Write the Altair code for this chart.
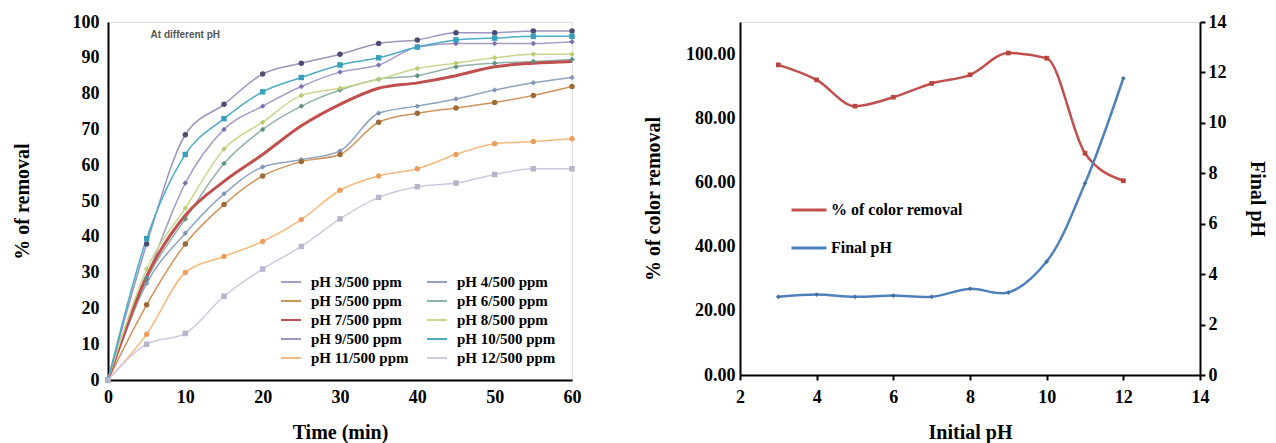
import altair as alt
import pandas as pd

# ---------------- Left panel data ----------------
times = [0, 5, 10, 15, 20, 25, 30, 35, 40, 45, 50, 55, 60]
series_names = [
    "pH 3/500 ppm", "pH 4/500 ppm", "pH 5/500 ppm", "pH 6/500 ppm",
    "pH 7/500 ppm", "pH 8/500 ppm", "pH 9/500 ppm", "pH 10/500 ppm",
    "pH 11/500 ppm", "pH 12/500 ppm",
]
ph3 = [0, 28.5, 55, 70, 76.5, 82, 86, 88, 93, 94, 94, 94, 94.5]
ph4 = [0, 27, 41, 52, 59.5, 61.5, 64, 74.5, 76.5, 78.5, 81, 83, 84.5]
ph5 = [0, 21, 38, 49, 57, 61, 63, 72, 74.5, 76, 77.5, 79.5, 82]
ph6 = [0, 28, 45, 60.5, 70, 76.5, 81, 84, 85, 87.5, 88.5, 89, 89.5]
ph7 = [0, 29, 46, 55.5, 63, 71, 77, 81.5, 83, 85, 87.5, 88.5, 89]
ph8 = [0, 31, 48, 64.5, 72, 79.5, 81.5, 84, 87, 88.5, 90, 91, 91]
ph9 = [0, 38, 68.5, 77, 85.5, 88.5, 91, 94, 95, 97, 97, 97.5, 97.5]
ph10 = [0, 39.5, 63, 73, 80.5, 84.5, 88, 90, 93, 95, 95.5, 96, 96]
ph11 = [0, 12.8, 30, 34.5, 38.7, 44.8, 53, 57, 59, 63, 66, 66.6, 67.4]
ph12 = [0, 10, 13, 23.4, 31, 37.3, 45, 51, 54, 55, 57.4, 59, 59]
series_values = [ph3, ph4, ph5, ph6, ph7, ph8, ph9, ph10, ph11, ph12]

line_colors = ["#a79dc9", "#8ea4c0", "#d0935a", "#93b3aa", "#c0504d",
               "#c8d88e", "#9a96bd", "#4bacc6", "#f6b97c", "#cfc9de"]
marker_colors = ["#7d72b0", "#7f96b8", "#9a6a3a", "#5f8f80", "#c0504d",
                 "#b9cc70", "#4f4c72", "#3a9fba", "#e8a060", "#b9b4cc"]
marker_shapes = ["diamond", "diamond", "circle", "diamond", "circle",
                 "diamond", "circle", "square", "circle", "square"]

annotation_text = ["At different pH"]
annotation_time = [10]
annotation_value = [96.4]

marker_keys = ["m" + str(i) for i in range(len(series_names))]

rows = []
for name, key, vals in zip(series_names, marker_keys, series_values):
    for t, v in zip(times, vals):
        rows.append({"series": name, "marker": key, "time": t, "removal": v})
df = pd.DataFrame(rows)
ann_df = pd.DataFrame({"time": annotation_time, "removal": annotation_value,
                       "label": annotation_text})

# ---------------- Right panel data ----------------
initial_ph = [3, 4, 5, 6, 7, 8, 9, 10, 11, 12]
color_removal = [96.9, 92.2, 84.0, 86.8, 91.1, 93.8, 100.6, 99.0, 69.3, 60.7]
final_ph = [3.1, 3.19, 3.1, 3.15, 3.1, 3.42, 3.27, 4.5, 7.6, 11.77]
right_series = ["% of color removal", "Final pH"]
right_colors = ["#c0504d", "#4f81bd"]

rdf = pd.DataFrame({"initial": initial_ph, "removal": color_removal, "final": final_ph})

SERIF = "Liberation Serif"

axis_common = dict(
    grid=False, domainColor="black", domainWidth=2, labelFlush=False,
    labelOverlap=False,
    labelFont=SERIF, labelFontWeight="bold", labelFontSize=18, labelColor="black",
    titleFont=SERIF, titleFontWeight="bold", titleFontSize=20, titleColor="black",
)

# ---------------- Left chart ----------------
cscale = alt.Scale(domain=series_names, range=line_colors)
fscale = alt.Scale(domain=marker_keys, range=marker_colors)
sscale = alt.Scale(domain=marker_keys, range=marker_shapes)

xl = alt.X("time:Q", scale=alt.Scale(domain=[0, 60], nice=False),
           axis=alt.Axis(values=[0, 10, 20, 30, 40, 50, 60], title="Time (min)",
                         ticks=False, labelPadding=8, titlePadding=16, **axis_common))
yl = alt.Y("removal:Q", scale=alt.Scale(domain=[0, 100], nice=False),
           axis=alt.Axis(values=[0, 10, 20, 30, 40, 50, 60, 70, 80, 90, 100],
                         title="% of removal", ticks=False, labelPadding=9,
                         titlePadding=40, **axis_common))

base = alt.Chart(df).encode(x=xl, y=yl)

lines = base.mark_line(interpolate="monotone").encode(
    color=alt.Color("series:N", scale=cscale, sort=series_names,
                    legend=alt.Legend(
                        title=None, orient="none", legendX=172, legendY=249,
                        columns=2, direction="horizontal", symbolType="stroke",
                        symbolSize=400, symbolStrokeWidth=2, labelFont=SERIF,
                        labelFontWeight="bold", labelFontSize=15, labelColor="black",
                        rowPadding=0, columnPadding=14, labelOffset=9,
                        labelLimit=300)),
    strokeWidth=alt.condition(alt.datum.series == "pH 7/500 ppm", alt.value(3), alt.value(1.5)),
)
points = base.mark_point(filled=True, size=30, opacity=1).encode(
    fill=alt.Fill("marker:N", scale=fscale, legend=None),
    shape=alt.Shape("marker:N", scale=sscale, legend=None),
).transform_filter(alt.datum.series != "pH 7/500 ppm")

annot = alt.Chart(ann_df).mark_text(
    font="Liberation Sans", fontWeight="bold", fontSize=10, color="#555555"
).encode(x=xl, y=yl, text="label:N")

left = alt.layer(lines, points, annot).properties(width=464, height=358)

# ---------------- Right chart ----------------
rscale = alt.Scale(domain=right_series, range=right_colors)
xr = alt.X("initial:Q", scale=alt.Scale(domain=[2, 14], nice=False),
           axis=alt.Axis(values=[2, 4, 6, 8, 10, 12, 14], title="Initial pH",
                         tickSize=5, tickWidth=2, tickColor="black",
                         labelPadding=8, titlePadding=16, **axis_common))

red_base = alt.Chart(rdf).transform_calculate(series="'% of color removal'").encode(
    x=xr,
    y=alt.Y("removal:Q", scale=alt.Scale(domain=[0, 110.3], nice=False),
            axis=alt.Axis(values=[0, 20, 40, 60, 80, 100], format=".2f",
                          title="% of color removal", ticks=False, labelPadding=5,
                          titlePadding=22, **axis_common)),
)
red_line = red_base.mark_line(interpolate="monotone", strokeWidth=2.5).encode(
    color=alt.Color("series:N", scale=rscale, sort=right_series,
                    legend=alt.Legend(
                        title=None, orient="none", legendX=50, legendY=169,
                        symbolType="stroke", symbolSize=1225, symbolStrokeWidth=3,
                        labelFont=SERIF, labelFontWeight="bold", labelFontSize=16,
                        labelColor="black", rowPadding=11, labelOffset=3, labelLimit=300)))
red_pts = red_base.mark_point(filled=True, size=22, shape="square", color="#b8453f", opacity=1)

blue_base = alt.Chart(rdf).transform_calculate(series="'Final pH'").encode(
    x=xr,
    y=alt.Y("final:Q", scale=alt.Scale(domain=[0, 14], nice=False),
            axis=alt.Axis(orient="right", values=[0, 2, 4, 6, 8, 10, 12, 14],
                          title="Final pH", tickSize=5, tickWidth=2, tickColor="black",
                          labelPadding=3, titlePadding=20, **axis_common)),
)
blue_line = blue_base.mark_line(interpolate="catmull-rom", strokeWidth=2.5).encode(
    color=alt.Color("series:N", scale=rscale, sort=right_series))
blue_pts = blue_base.mark_point(filled=True, size=22, shape="diamond", color="#43709f", opacity=1)

right = alt.layer(
    alt.layer(red_line, red_pts),
    alt.layer(blue_line, blue_pts),
).resolve_scale(y="independent").properties(width=460, height=353)

chart = alt.hconcat(left, right, spacing=61).resolve_scale(
    color="independent", fill="independent", shape="independent"
).properties(
    padding={"left": 3, "top": 4, "right": 0, "bottom": 0}
).configure_view(stroke=None).configure(background="white")

chart.save("out.html", embed_options={"renderer": "svg", "actions": False})
